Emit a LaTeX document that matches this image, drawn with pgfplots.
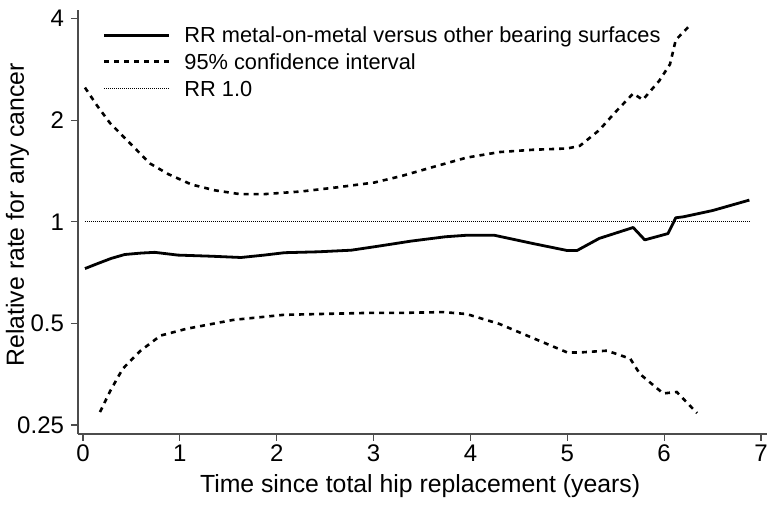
\documentclass[border=0pt]{standalone}
\usepackage{fontspec}
\setmainfont{Liberation Sans}
\usepackage{pgfplots}
\pgfplotsset{compat=1.18}
\pgfplotstableread{
t v
0.02 0.727
0.15 0.752
0.29 0.779
0.43 0.800
0.60 0.808
0.74 0.812
0.98 0.797
1.32 0.791
1.63 0.784
1.87 0.797
2.08 0.810
2.43 0.815
2.77 0.824
3.05 0.847
3.39 0.877
3.74 0.903
3.95 0.912
4.25 0.912
4.64 0.863
5.00 0.822
5.10 0.822
5.33 0.893
5.68 0.962
5.80 0.884
6.04 0.923
6.12 1.028
6.20 1.035
6.50 1.080
6.88 1.160
}\tabrr
\pgfplotstableread{
t v
0.02 2.50
0.15 2.20
0.28 1.96
0.485 1.71
0.69 1.49
0.88 1.385
1.12 1.29
1.36 1.24
1.62 1.208
1.87 1.208
2.25 1.23
2.63 1.266
3.01 1.308
3.30 1.37
3.60 1.45
3.96 1.55
4.30 1.61
4.64 1.635
5.00 1.65
5.13 1.68
5.33 1.87
5.50 2.12
5.68 2.40
5.78 2.30
5.95 2.62
6.06 2.93
6.12 3.46
6.28 3.86
}\tabup
\pgfplotstableread{
t v
0.175 0.273
0.28 0.315
0.41 0.367
0.59 0.414
0.80 0.460
1.07 0.482
1.55 0.512
2.07 0.530
2.93 0.537
3.27 0.537
3.72 0.540
3.96 0.533
4.30 0.498
4.64 0.453
5.00 0.410
5.13 0.410
5.41 0.415
5.65 0.393
5.75 0.354
5.99 0.310
6.13 0.313
6.34 0.271
}\tablo
\begin{document}
\begin{tikzpicture}
\begin{axis}[
  name=ax,
  scale only axis, width=344.5bp, height=212bp,
  xmin=-0.052, xmax=7.062,
  ymode=log, log basis y=2,
  ymin=0.235, ymax=4.245,
  axis x line*=bottom, axis y line*=left,
  axis line style={black!70, line width=0.6bp},
  tick style={black!70, line width=0.6bp},
  tick align=outside, major tick length=3.5bp,
  xtick={0,1,2,3,4,5,6,7},
  ytick={0.25,0.5,1,2,4},
  yticklabels={0.25,0.5,1,2,4},
  /pgf/number format/assume math mode=true,
  ticklabel style={font=\fontsize{12bp}{14bp}\selectfont},
  xticklabel style={yshift=1.5bp},
  xlabel={Time since total hip replacement (years)},
  ylabel={Relative rate for any cancer},
  label style={font=\fontsize{12.4bp}{14bp}\selectfont},
  xlabel style={at={(axis description cs:0.4965,-0.137)}, anchor=base},
  ylabel style={at={(axis description cs:-0.0784,0.517)}, anchor=base},
  legend cell align=left,
  legend style={at={(axis description cs:0.0363,0.972)}, anchor=north west,
    draw=none, fill=none, inner sep=0pt, outer sep=0pt, row sep=0bp,
    font=\fontsize{10.9bp}{13bp}\selectfont,
    nodes={inner sep=0pt, text height=10.55bp, text depth=2.75bp},
    /tikz/every odd column/.append style={column sep=6.8bp}},
  legend image code/.code={\draw[#1] (0bp,0bp) -- (32.5bp,0bp);},
]
\addplot[black, line width=1.4bp, line join=round] table[x=t,y=v] {\tabrr};
\addlegendentry{RR metal-on-metal versus other bearing surfaces}
\addplot[black, line width=1.3bp, dash pattern=on 2.5bp off 2.5bp] table[x=t,y=v] {\tabup};
\addlegendentry{95\% confidence interval}
\addplot[black, line width=1.3bp, dash pattern=on 2.5bp off 2.5bp, forget plot] table[x=t,y=v] {\tablo};
\addplot[black, line width=0.5bp, dash pattern=on 0.5bp off 0.5bp] coordinates {(0.02,1) (6.88,1)};
\addlegendentry{RR 1.0}
\end{axis}
\pgfresetboundingbox
\path ([shift={(-39bp,-38bp)}]ax.south west) rectangle ([shift={(348bp,217bp)}]ax.south west);
\end{tikzpicture}
\end{document}
